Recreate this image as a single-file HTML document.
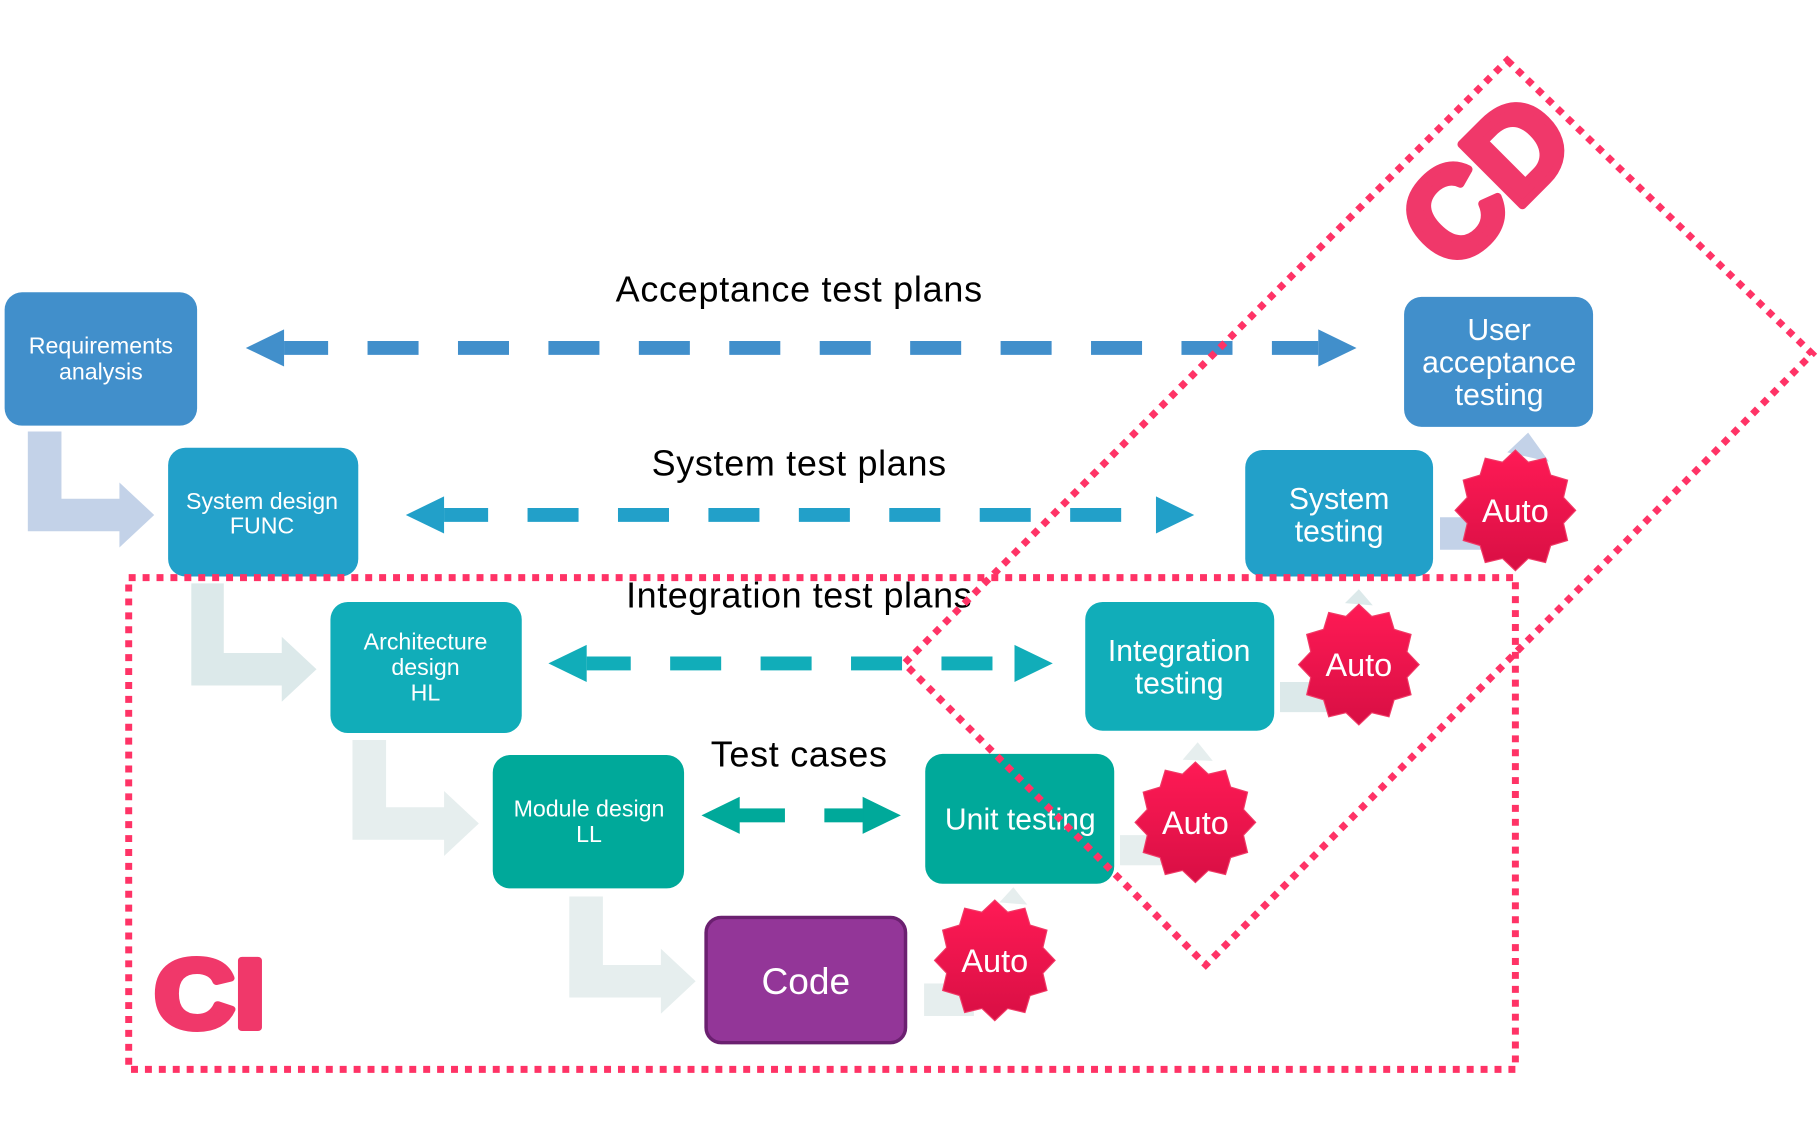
<!DOCTYPE html>
<html><head><meta charset="utf-8"><style>
html,body{margin:0;padding:0;background:#fff;}
svg{display:block;}
text{font-family:"Liberation Sans",Arial,sans-serif;}
</style></head><body>
<svg width="1818" height="1132" viewBox="0 0 1568 976" preserveAspectRatio="none" xmlns="http://www.w3.org/2000/svg">
<defs>
<linearGradient id="sg" x1="0" y1="0" x2="0" y2="1"><stop offset="0" stop-color="#ff1a55"/><stop offset="1" stop-color="#d80f44"/></linearGradient>
<polygon id="star" fill="url(#sg)" stroke="#f03a66" stroke-width="1" points="52,0 41.5,11.1 45,26 30.4,30.4 26,45 11.1,41.5 0,52 -11.1,41.5 -26,45 -30.4,30.4 -45,26 -41.5,11.1 -52,0 -41.5,-11.1 -45,-26 -30.4,-30.4 -26,-45 -11.1,-41.5 0,-52 11.1,-41.5 26,-45 30.4,-30.4 45,-26 41.5,-11.1"/>
</defs>

<path d="M24,372 H53 V430 H103 V416 L133,444 L103,472 V458 H24 Z" fill="#c3d2e8"/>
<path d="M165,503 H193 V563 H243 V549 L273,577 L243,605 V591 H165 Z" fill="#dce9ea"/>
<path d="M304,638 H333 V696 H383 V682 L413,710 L383,738 V724 H304 Z" fill="#e6eeee"/>
<path d="M491,773 H520 V832 H570 V818 L600,846 L570,874 V860 H491 Z" fill="#e6eeee"/>

<path d="M1242,446 H1290 V474 H1242 Z" fill="#c3d2e8"/>
<path d="M1300,390 L1318,373 L1336,398 Z" fill="#c3d2e8"/>
<path d="M1104,588 H1150 V614 H1104 Z" fill="#dce9ea"/>
<path d="M1160,520 L1172,508 L1184,522 Z" fill="#dce9ea"/>
<path d="M966,720 H1010 V746 H966 Z" fill="#e6eeee"/>
<path d="M1020,655 L1033,640 L1046,656 Z" fill="#e6eeee"/>
<path d="M797,848 H840 V876 H797 Z" fill="#e6eeee"/>
<path d="M862,778 L874,765 L886,780 Z" fill="#e6eeee"/>

<rect x="4" y="252" width="166" height="115" rx="15" fill="#418fcb"/>
<text x="87" y="305" font-size="20" fill="#fff" text-anchor="middle">Requirements</text>
<text x="87" y="327" font-size="20" fill="#fff" text-anchor="middle">analysis</text>

<rect x="145" y="386" width="164" height="111" rx="15" fill="#22a0c9"/>
<text x="226" y="439" font-size="20" fill="#fff" text-anchor="middle">System design</text>
<text x="226" y="460" font-size="20" fill="#fff" text-anchor="middle">FUNC</text>

<rect x="285" y="519" width="165" height="113" rx="15" fill="#11adb9"/>
<text x="367" y="560" font-size="20" fill="#fff" text-anchor="middle">Architecture</text>
<text x="367" y="582" font-size="20" fill="#fff" text-anchor="middle">design</text>
<text x="367" y="604" font-size="20" fill="#fff" text-anchor="middle">HL</text>

<rect x="425" y="651" width="165" height="115" rx="15" fill="#00a99a"/>
<text x="508" y="704" font-size="20" fill="#fff" text-anchor="middle">Module design</text>
<text x="508" y="726" font-size="20" fill="#fff" text-anchor="middle">LL</text>

<rect x="609" y="791" width="172" height="108" rx="13" fill="#933698" stroke="#6b2070" stroke-width="3"/>
<text x="695" y="857" font-size="32" fill="#fff" text-anchor="middle">Code</text>

<rect x="1211" y="256" width="163" height="112" rx="15" fill="#418fcb"/>
<text x="1293" y="293" font-size="26" fill="#fff" text-anchor="middle">User</text>
<text x="1293" y="321" font-size="26" fill="#fff" text-anchor="middle">acceptance</text>
<text x="1293" y="349" font-size="26" fill="#fff" text-anchor="middle">testing</text>

<rect x="1074" y="388" width="162" height="109" rx="15" fill="#22a0c9"/>
<text x="1155" y="439" font-size="26" fill="#fff" text-anchor="middle">System</text>
<text x="1155" y="467" font-size="26" fill="#fff" text-anchor="middle">testing</text>

<rect x="936" y="519" width="163" height="111" rx="15" fill="#11adb9"/>
<text x="1017" y="570" font-size="26" fill="#fff" text-anchor="middle">Integration</text>
<text x="1017" y="598" font-size="26" fill="#fff" text-anchor="middle">testing</text>

<rect x="798" y="650" width="163" height="112" rx="15" fill="#00a99a"/>
<text x="880" y="715" font-size="26" fill="#fff" text-anchor="middle">Unit testing</text>

<text x="689" y="260" font-size="31" fill="#000" text-anchor="middle" textLength="316">Acceptance test plans</text>
<polygon points="212,300 245,284 245,316" fill="#418fcb"/>
<polygon points="1170,300 1137,284 1137,316" fill="#418fcb"/>
<line x1="245" y1="300" x2="1137" y2="300" stroke="#418fcb" stroke-width="12" stroke-dasharray="44 34" stroke-dashoffset="6"/>

<text x="689" y="410" font-size="31" fill="#000" text-anchor="middle" textLength="254">System test plans</text>
<polygon points="350,444 383,428 383,460" fill="#22a0c9"/>
<polygon points="1030,444 997,428 997,460" fill="#22a0c9"/>
<line x1="383" y1="444" x2="997" y2="444" stroke="#22a0c9" stroke-width="12" stroke-dasharray="44 34" stroke-dashoffset="6"/>

<text x="689" y="524" font-size="31" fill="#000" text-anchor="middle" textLength="298">Integration test plans</text>
<polygon points="473,572 506,556 506,588" fill="#11adb9"/>
<polygon points="908,572 875,556 875,588" fill="#11adb9"/>
<line x1="506" y1="572" x2="875" y2="572" stroke="#11adb9" stroke-width="12" stroke-dasharray="44 34" stroke-dashoffset="6"/>

<text x="689" y="661" font-size="31" fill="#000" text-anchor="middle" textLength="152">Test cases</text>
<polygon points="605,703 638,687 638,719" fill="#00a99a"/>
<rect x="637" y="697" width="40" height="12" fill="#00a99a"/>
<polygon points="777,703 744,687 744,719" fill="#00a99a"/>
<rect x="711" y="697" width="34" height="12" fill="#00a99a"/>

<use href="#star" x="1307" y="440"/>
<text x="1307" y="450" font-size="28" fill="#fff" text-anchor="middle">Auto</text>
<use href="#star" x="1172" y="573"/>
<text x="1172" y="583" font-size="28" fill="#fff" text-anchor="middle">Auto</text>
<use href="#star" x="1031" y="709"/>
<text x="1031" y="719" font-size="28" fill="#fff" text-anchor="middle">Auto</text>
<use href="#star" x="858" y="828"/>
<text x="858" y="838" font-size="28" fill="#fff" text-anchor="middle">Auto</text>

<rect x="111" y="498" width="1196" height="424" fill="none" stroke="#ff3366" stroke-width="6" stroke-dasharray="6 6"/>
<text x="133" y="886" font-size="84" font-weight="bold" fill="#f0386a" stroke="#f0386a" stroke-width="6" stroke-linejoin="round" textLength="96" lengthAdjust="spacingAndGlyphs">CI</text>

<polygon points="1300,52 1563,305 1040,832 780,572" fill="none" stroke="#ff3366" stroke-width="6" stroke-dasharray="6 6"/>
<text x="0" y="0" font-size="108" font-weight="bold" fill="#f0386a" stroke="#f0386a" stroke-width="7" stroke-linejoin="round" text-anchor="middle" transform="translate(1308,182) rotate(-45)">CD</text>
</svg>
</body></html>
